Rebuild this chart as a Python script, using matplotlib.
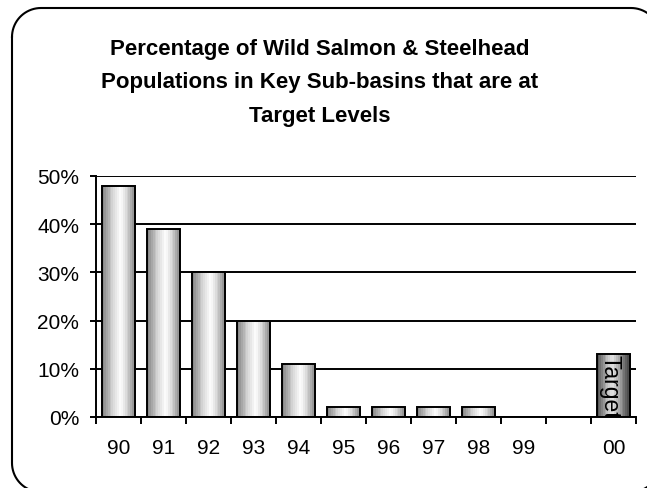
import numpy as np
from matplotlib import use
use("Agg")
from matplotlib import pyplot as plt
from matplotlib.colors import LinearSegmentedColormap
from matplotlib.lines import Line2D
from matplotlib.patches import Rectangle

plt.rcParams["font.family"] = ["Liberation Sans", "DejaVu Sans"]

# percentage of populations at target level, by year
anni = ["90", "91", "92", "93", "94", "95", "96", "97", "98", "99", "", "00"]
percentuali = [48, 39, 30, 20, 11, 2, 2, 2, 2, 0, 0, 0]
target = 13
target_idx = 11
etichette_y = ["0%", "10%", "20%", "30%", "40%", "50%"]
valori_y = [0, 10, 20, 30, 40, 50]

titolo = ["Percentage of Wild Salmon & Steelhead",
          "Populations in Key Sub-basins that are at",
          "Target Levels"]

W, H = 647, 489  # pixels

# cylinder-like shading, drawn in bands
grigio = LinearSegmentedColormap.from_list(
    "cil", [(0, "#8a8a8a"), (0.3, "#d4d4d4"), (0.55, "#ffffff"),
            (0.8, "#c8c8c8"), (1, "#858585")])
scuro = LinearSegmentedColormap.from_list(
    "cil_scuro", [(0, "#5a5a5a"), (0.3, "#c0c0c0"), (0.45, "#e6e6e6"),
                  (0.7, "#9a9a9a"), (1, "#3c3c3c")])
bande = np.linspace(0, 1, 18).reshape(1, -1)

LARG = 0.74


def disegna_barra(ax, x, h, cmap):  # gradient fill plus black outline
    if h <= 0:
        return
    ax.imshow(bande, extent=(x - LARG / 2, x + LARG / 2, 0, h), aspect="auto",
              cmap=cmap, interpolation="nearest", zorder=2)
    ax.add_patch(Rectangle((x - LARG / 2, 0), LARG, h, facecolor="none",
                           edgecolor="black", linewidth=1.4, zorder=3))


def cornice_arrotondata(x0, y0, x1, y1, r):  # pixel coords, y measured downwards
    t = np.linspace(0, np.pi / 2, 20)
    xs, ys = [], []
    for cx, cy, a0 in [(x0 + r, y0 + r, np.pi), (x1 - r, y0 + r, 1.5 * np.pi),
                       (x1 - r, y1 - r, 0), (x0 + r, y1 - r, 0.5 * np.pi)]:
        xs.extend(cx + r * np.cos(a0 + t))
        ys.extend(cy + r * np.sin(a0 + t))
    xs.append(xs[0])
    ys.append(ys[0])
    return np.array(xs) / W, 1 - np.array(ys) / H


fig = plt.figure(figsize=(W / 100, H / 100), dpi=100)
ax = fig.add_axes([96 / W, 71 / H, 540 / W, 241 / H])

for i, v in enumerate(percentuali):
    disegna_barra(ax, i, v, grigio)
disegna_barra(ax, target_idx, target, scuro)
ax.text(target_idx - 0.08, target, "Target", rotation=270, ha="center", va="top",
        fontsize=16.5, clip_on=True, zorder=4)

ax.set_xlim(-0.5, len(anni) - 0.5)
ax.set_ylim(0, 50)

ax.set_yticks(valori_y)
ax.set_yticklabels(etichette_y)
ax.yaxis.grid(True, color="black", linewidth=1.4)
ax.set_axisbelow(True)

# ticks between categories, labels at category centres
ax.set_xticks(np.arange(-0.5, len(anni), 1.0))
ax.set_xticklabels([])
ax.set_xticks(np.arange(len(anni)), minor=True)
ax.set_xticklabels(anni, minor=True)
ax.tick_params(axis="x", which="major", length=5, width=1.4, direction="out")
ax.tick_params(axis="x", which="minor", length=0, pad=15, labelsize=15)
ax.tick_params(axis="y", length=4.5, width=1.4, pad=7.5, labelsize=15)

for s in ["top", "right"]:
    ax.spines[s].set_visible(False)
for s in ["left", "bottom"]:
    ax.spines[s].set_linewidth(1.4)

for riga, y in zip(titolo, [434, 400.7, 367.4]):
    fig.text(320 / W, y / H, riga, ha="center", va="baseline",
             fontsize=16, fontweight="bold")

# rounded frame, running off the right and bottom edges
bx, by = cornice_arrotondata(12, 9, 660, 493, 29)
fig.add_artist(Line2D(bx, by, color="black", linewidth=1.5,
                      transform=fig.transFigure))

fig.savefig("out.png", dpi=100)
